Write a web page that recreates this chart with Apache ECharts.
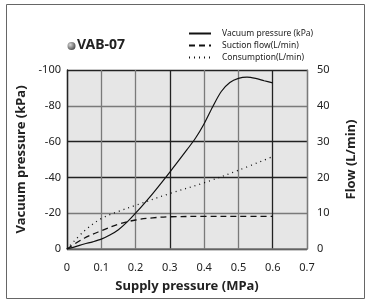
<!DOCTYPE html>
<html>
<head>
<meta charset="utf-8">
<script src="https://cdn.jsdelivr.net/npm/echarts@6/dist/echarts.min.js"></script>
<style>
  html, body { margin: 0; padding: 0; background: #fff; }
  #chart { width: 366px; height: 305px; }
</style>
</head>
<body>
<div id="chart"></div>
<script>
// supply pressure (MPa) -> value pairs
const vacuumPressure = [
  [0, 0], [0.025, -1.3], [0.05, -2.8], [0.075, -4], [0.1, -5.5], [0.125, -7.8],
  [0.15, -10.8], [0.175, -15], [0.2, -20], [0.25, -31], [0.3, -43], [0.35, -55.5],
  [0.375, -62], [0.4, -70], [0.425, -79.5], [0.45, -88], [0.475, -93], [0.5, -95.3],
  [0.525, -96], [0.55, -95.3], [0.575, -94], [0.6, -92.8]
]
const suctionFlow = [
  [0, 0], [0.05, 3], [0.1, 5.1], [0.15, 6.9], [0.2, 8.1], [0.25, 8.7],
  [0.3, 9], [0.4, 9.1], [0.5, 9.1], [0.6, 9.1]
]
const consumption = [
  [0, 0], [0.05, 5], [0.1, 8.5], [0.15, 10.5], [0.2, 12.2],
  [0.3, 15.5], [0.4, 18.5], [0.5, 22], [0.6, 25.8]
]
const seriesNames = ['Vacuum pressure (kPa)', 'Suction flow(L/min)', 'Consumption(L/min)']

const chart = echarts.init(document.getElementById('chart'))
const font = 'Noto Sans'
const black = '#222'
const grey = '#7a7a7a'

chart.setOption({
  animation: false,
  textStyle: { fontFamily: font },
  grid: {
    left: 67, right: 59, top: 70, bottom: 56,
    show: true, backgroundColor: '#e6e6e6', borderWidth: 0
  },
  legend: {
    orient: 'vertical',
    left: 188, top: 29, padding: 0,
    itemWidth: 22, itemHeight: 8, itemGap: 3,
    itemStyle: { opacity: 0 },
    textStyle: { fontSize: 8.5, color: '#222', fontFamily: font, padding: [0, 0, 0, 6] },
    data: seriesNames
  },
  xAxis: {
    type: 'value', min: 0, max: 0.7, interval: 0.1,
    name: 'Supply pressure (MPa)', nameLocation: 'middle', nameGap: 31,
    nameTextStyle: { fontSize: 13, fontWeight: 'bold', color: '#222' },
    axisLine: { show: true, lineStyle: { color: grey, width: 1.5 } },
    axisTick: { show: false },
    axisLabel: { fontSize: 11, color: '#222', margin: 13 },
    splitLine: { show: true, lineStyle: { color: [black, grey, grey, black, grey, grey, black, grey], width: 1.3 } }
  },
  yAxis: [
    {
      type: 'value', min: -100, max: 0, interval: 20, inverse: true,
      name: 'Vacuum pressure (kPa)', nameLocation: 'middle', nameGap: 38,
      nameTextStyle: { fontSize: 13, fontWeight: 'bold', color: '#222' },
      axisLine: { show: true, lineStyle: { color: black, width: 1.3 } },
      axisTick: { show: false },
      axisLabel: { fontSize: 11, color: '#222', margin: 6 },
      splitLine: { show: true, lineStyle: { color: [black, grey, black, black, grey, black], width: 1.3 } }
    },
    {
      type: 'value', min: 0, max: 50, interval: 10,
      name: 'Flow (L/min)', nameLocation: 'middle', nameGap: 38,
      nameTextStyle: { fontSize: 13, fontWeight: 'bold', color: '#222' },
      axisLine: { show: true, lineStyle: { color: grey, width: 1.3 } },
      axisTick: { show: false },
      axisLabel: { fontSize: 11, color: '#222', margin: 10 },
      splitLine: { show: false }
    }
  ],
  graphic: [
    {
      type: 'rect', left: 4, top: 2, silent: true,
      shape: { width: 358, height: 294 },
      style: { fill: 'none', stroke: '#666', lineWidth: 1 }
    },
    {
      type: 'circle', shape: { cx: 71.5, cy: 46, r: 4 },
      style: {
        fill: new echarts.graphic.RadialGradient(0.35, 0.35, 0.7, [
          { offset: 0, color: '#d8d8d8' }, { offset: 1, color: '#4a4a4a' }
        ])
      }
    },
    {
      type: 'text', left: 77, top: 38,
      style: { text: 'VAB-07', font: 'bold 14px "Noto Sans"', fill: '#222' }
    }
  ],
  series: [
    {
      name: seriesNames[0], type: 'line', yAxisIndex: 0, data: vacuumPressure,
      smooth: 0.3, symbol: 'none',
      lineStyle: { color: '#111', width: 1.2, type: 'solid' }, itemStyle: { color: '#111' }
    },
    {
      name: seriesNames[1], type: 'line', yAxisIndex: 1, data: suctionFlow,
      smooth: 0.35, symbol: 'none',
      lineStyle: { color: '#111', width: 1.3, type: [6, 4] }, itemStyle: { color: '#111' }
    },
    {
      name: seriesNames[2], type: 'line', yAxisIndex: 1, data: consumption,
      smooth: 0.35, symbol: 'none',
      lineStyle: { color: '#111', width: 1.3, type: [1, 4] }, itemStyle: { color: '#111' }
    }
  ]
})
</script>
</body>
</html>
